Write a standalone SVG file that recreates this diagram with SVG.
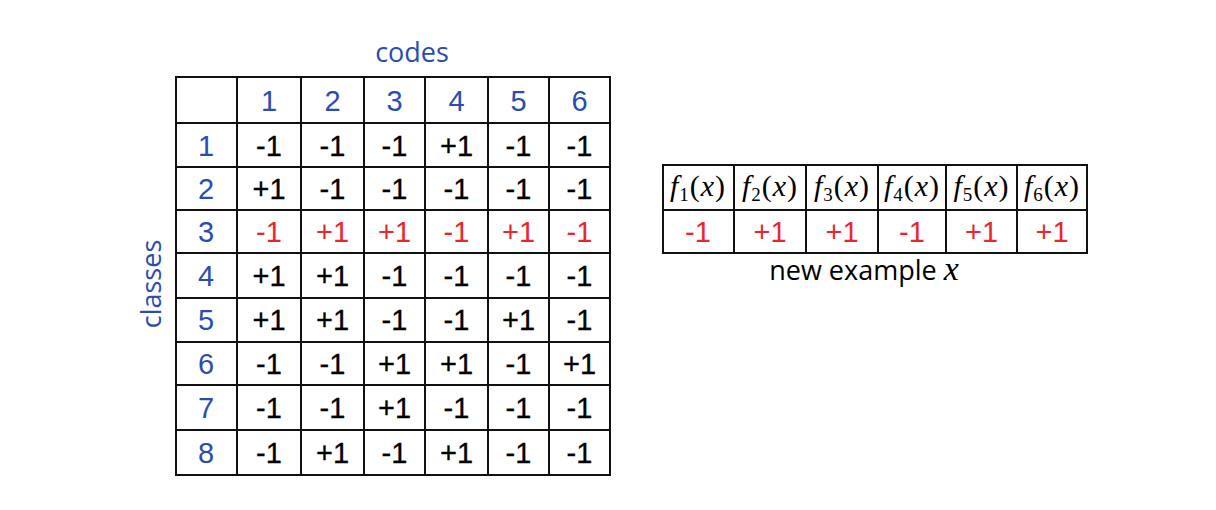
<svg xmlns="http://www.w3.org/2000/svg" width="1216" height="510" viewBox="0 0 1216 510">
<style>
.g{stroke:#111;stroke-width:2;fill:none}
.b{fill:#2a4cb0;font-family:"Liberation Sans",Arial,sans-serif;font-size:29px;text-anchor:middle}
.k{fill:#000;font-family:"Liberation Sans",Arial,sans-serif;font-size:29px;text-anchor:middle;stroke:#000;stroke-width:0.3}
.r{fill:#e8262e;font-family:"Liberation Sans",Arial,sans-serif;font-size:29px;text-anchor:middle}
.lab{fill:#2a4cb0;font-family:"Open Sans","DejaVu Sans",sans-serif;font-size:27px;text-anchor:middle}
.m{fill:#000;font-family:"Liberation Serif","Times New Roman",serif;font-size:30px;text-anchor:middle;letter-spacing:1px}
.it{font-style:italic}
</style>
<rect width="1216" height="510" fill="#fff"/>
<g id="codes-label"><text class="lab" x="412" y="62">codes</text></g>
<g id="classes-label"><text class="lab" transform="translate(161,284) rotate(-90)">classes</text></g>
<g id="main-table">
<g class="g">
<line x1="175" y1="77" x2="611" y2="77"/>
<line x1="175" y1="123" x2="611" y2="123"/>
<line x1="175" y1="167" x2="611" y2="167"/>
<line x1="175" y1="210" x2="611" y2="210"/>
<line x1="175" y1="253" x2="611" y2="253"/>
<line x1="175" y1="298" x2="611" y2="298"/>
<line x1="175" y1="342" x2="611" y2="342"/>
<line x1="175" y1="385" x2="611" y2="385"/>
<line x1="175" y1="430" x2="611" y2="430"/>
<line x1="175" y1="475" x2="611" y2="475"/>
<line x1="176" y1="76" x2="176" y2="476"/>
<line x1="237" y1="76" x2="237" y2="476"/>
<line x1="301" y1="76" x2="301" y2="476"/>
<line x1="364" y1="76" x2="364" y2="476"/>
<line x1="425" y1="76" x2="425" y2="476"/>
<line x1="488" y1="76" x2="488" y2="476"/>
<line x1="549" y1="76" x2="549" y2="476"/>
<line x1="610" y1="76" x2="610" y2="476"/>
</g>
<g id="header">
<text class="b" x="269" y="111">1</text><text class="b" x="332.5" y="111">2</text><text class="b" x="394.5" y="111">3</text><text class="b" x="456.5" y="111">4</text><text class="b" x="518.5" y="111">5</text><text class="b" x="579.5" y="111">6</text>
</g>
<g id="row1"><text class="b" x="206" y="156">1</text><text class="k" x="269" y="156">-1</text><text class="k" x="332.5" y="156">-1</text><text class="k" x="394.5" y="156">-1</text><text class="k" x="456.5" y="156">+1</text><text class="k" x="518.5" y="156">-1</text><text class="k" x="579.5" y="156">-1</text></g>
<g id="row2"><text class="b" x="206" y="199">2</text><text class="k" x="269" y="199">+1</text><text class="k" x="332.5" y="199">-1</text><text class="k" x="394.5" y="199">-1</text><text class="k" x="456.5" y="199">-1</text><text class="k" x="518.5" y="199">-1</text><text class="k" x="579.5" y="199">-1</text></g>
<g id="row3"><text class="b" x="206" y="242">3</text><text class="r" x="269" y="242">-1</text><text class="r" x="332.5" y="242">+1</text><text class="r" x="394.5" y="242">+1</text><text class="r" x="456.5" y="242">-1</text><text class="r" x="518.5" y="242">+1</text><text class="r" x="579.5" y="242">-1</text></g>
<g id="row4"><text class="b" x="206" y="286">4</text><text class="k" x="269" y="286">+1</text><text class="k" x="332.5" y="286">+1</text><text class="k" x="394.5" y="286">-1</text><text class="k" x="456.5" y="286">-1</text><text class="k" x="518.5" y="286">-1</text><text class="k" x="579.5" y="286">-1</text></g>
<g id="row5"><text class="b" x="206" y="330">5</text><text class="k" x="269" y="330">+1</text><text class="k" x="332.5" y="330">+1</text><text class="k" x="394.5" y="330">-1</text><text class="k" x="456.5" y="330">-1</text><text class="k" x="518.5" y="330">+1</text><text class="k" x="579.5" y="330">-1</text></g>
<g id="row6"><text class="b" x="206" y="374">6</text><text class="k" x="269" y="374">-1</text><text class="k" x="332.5" y="374">-1</text><text class="k" x="394.5" y="374">+1</text><text class="k" x="456.5" y="374">+1</text><text class="k" x="518.5" y="374">-1</text><text class="k" x="579.5" y="374">+1</text></g>
<g id="row7"><text class="b" x="206" y="418">7</text><text class="k" x="269" y="418">-1</text><text class="k" x="332.5" y="418">-1</text><text class="k" x="394.5" y="418">+1</text><text class="k" x="456.5" y="418">-1</text><text class="k" x="518.5" y="418">-1</text><text class="k" x="579.5" y="418">-1</text></g>
<g id="row8"><text class="b" x="206" y="463">8</text><text class="k" x="269" y="463">-1</text><text class="k" x="332.5" y="463">+1</text><text class="k" x="394.5" y="463">-1</text><text class="k" x="456.5" y="463">+1</text><text class="k" x="518.5" y="463">-1</text><text class="k" x="579.5" y="463">-1</text></g>
</g>
<g id="example-table">
<g class="g">
<line x1="662" y1="165" x2="1088" y2="165"/>
<line x1="662" y1="210" x2="1088" y2="210"/>
<line x1="662" y1="253" x2="1088" y2="253"/>
<line x1="663" y1="164" x2="663" y2="254"/>
<line x1="734" y1="164" x2="734" y2="254"/>
<line x1="806" y1="164" x2="806" y2="254"/>
<line x1="878" y1="164" x2="878" y2="254"/>
<line x1="946" y1="164" x2="946" y2="254"/>
<line x1="1017" y1="164" x2="1017" y2="254"/>
<line x1="1087" y1="164" x2="1087" y2="254"/>
</g>
<g id="f-labels">
<text class="m" x="698" y="196"><tspan class="it">f</tspan><tspan font-size="19" dy="5">1</tspan><tspan dy="-5">(</tspan><tspan class="it">x</tspan>)</text>
<text class="m" x="770" y="196"><tspan class="it">f</tspan><tspan font-size="19" dy="5">2</tspan><tspan dy="-5">(</tspan><tspan class="it">x</tspan>)</text>
<text class="m" x="842" y="196"><tspan class="it">f</tspan><tspan font-size="19" dy="5">3</tspan><tspan dy="-5">(</tspan><tspan class="it">x</tspan>)</text>
<text class="m" x="912" y="196"><tspan class="it">f</tspan><tspan font-size="19" dy="5">4</tspan><tspan dy="-5">(</tspan><tspan class="it">x</tspan>)</text>
<text class="m" x="981.5" y="196"><tspan class="it">f</tspan><tspan font-size="19" dy="5">5</tspan><tspan dy="-5">(</tspan><tspan class="it">x</tspan>)</text>
<text class="m" x="1052" y="196"><tspan class="it">f</tspan><tspan font-size="19" dy="5">6</tspan><tspan dy="-5">(</tspan><tspan class="it">x</tspan>)</text>
</g>
<g id="f-values">
<text class="r" x="698" y="242">-1</text><text class="r" x="770" y="242">+1</text><text class="r" x="842" y="242">+1</text><text class="r" x="912" y="242">-1</text><text class="r" x="981.5" y="242">+1</text><text class="r" x="1052" y="242">+1</text>
</g>
</g>
<g id="example-label"><text x="864" y="280" fill="#000" font-family="'Open Sans','DejaVu Sans',sans-serif" font-size="27" text-anchor="middle">new example <tspan font-family="'Liberation Serif',serif" font-style="italic" font-size="34">x</tspan></text></g>
</svg>
